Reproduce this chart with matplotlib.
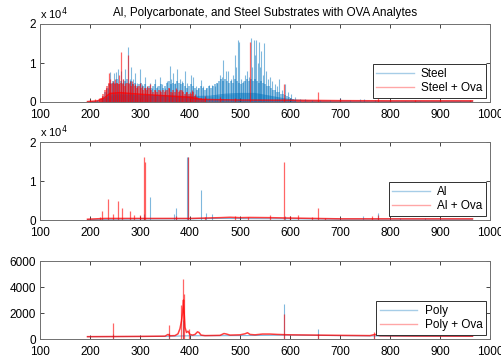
import matplotlib
matplotlib.use("Agg")
import matplotlib.pyplot as plt
from matplotlib.lines import Line2D

plt.rcParams['font.family'] = ['Liberation Sans', 'DejaVu Sans']
plt.rcParams['font.size'] = 8

TITLE = "Al, Polycarbonate, and Steel Substrates with OVA Analytes"
x_ticks = [100, 200, 300, 400, 500, 600, 700, 800, 900, 1000]

# ---------------- Steel panel ----------------
steel_cont_wl = [195, 215, 228, 240, 260, 300, 350, 400, 440, 470, 500, 530, 560, 590, 610, 650, 700, 800, 965]
steel_cont = [0, 200, 800, 1500, 1800, 1600, 1600, 1400, 1500, 2000, 2200, 2200, 1500, 800, 500, 300, 250, 200, 200]
steel_pk_wl = [205, 215, 225, 232, 236, 240, 244, 248, 252, 257, 262, 266, 270, 276, 280, 283, 287, 290,
               295, 300, 305, 310, 315, 320, 325, 330, 335, 340, 345, 350, 355, 360, 363, 367, 371, 375,
               380, 385, 390, 395, 403, 407, 412, 417, 422, 427, 432, 438, 444, 450, 455, 460, 464, 467,
               472, 477, 482, 486, 490, 493, 496, 499, 503, 507, 511, 515, 519, 522, 525, 528, 531, 533,
               536, 538, 541, 543, 546, 548, 552, 556, 560, 565, 570, 575, 579, 584, 590, 596, 602, 610,
               620, 630, 645, 660, 680, 700, 720, 740, 748, 770, 800, 830, 860, 900, 940]
steel_pk = [300, 500, 900, 2500, 3500, 7700, 5000, 7500, 7700, 8500, 8000, 6000, 8500, 14100, 6000, 9000,
            6000, 7500, 5000, 8500, 4500, 6500, 4000, 5000, 3500, 6000, 4000, 6500, 4500, 3500, 5500, 9300,
            6000, 7500, 5000, 8500, 6000, 5500, 8000, 5000, 7000, 6400, 4000, 3500, 5600, 4000, 3500, 4400,
            4400, 4000, 5000, 7000, 6500, 10800, 8000, 8000, 6000, 7000, 12000, 9000, 15900, 15500, 6000,
            5500, 7000, 8000, 6500, 16400, 9000, 16000, 12000, 16000, 10000, 15500, 9000, 13000, 7000, 15000,
            8000, 6000, 6500, 5500, 4500, 4000, 6000, 3000, 4500, 2500, 2000, 1200, 800, 700, 500, 600, 500,
            900, 500, 800, 700, 500, 400, 300, 300, 250, 200]
steel_minor_wl = [226, 230, 234, 238, 242, 246, 250, 254, 258, 262, 266, 270, 274, 278, 282, 286, 290, 294,
                  298, 302, 306, 310, 314, 318, 322, 326, 330, 334, 338, 342, 346, 350, 354, 358, 362, 366,
                  370, 374, 378, 382, 386, 390, 394, 398, 402, 406, 410, 414, 418, 422, 426, 430, 434, 438,
                  442, 446, 450, 454, 458, 462, 466, 470, 474, 478, 482, 486, 490, 494, 498, 502, 506, 510,
                  514, 518, 522, 526, 530, 534, 538, 542, 546, 550, 554, 558, 562, 566, 570, 574, 578, 582,
                  586, 590, 594, 598, 602, 606, 610]
steel_minor = [1500, 2500, 3500, 4500, 5000, 5500, 5000, 6000, 4500, 5500, 5000, 5500, 6000, 5000, 5500,
               4500, 5000, 4000, 4500, 5000, 4000, 4500, 3500, 4000, 3500, 4000, 4500, 3500, 4000, 4500,
               3500, 4000, 5000, 5500, 4500, 5000, 4500, 5500, 5000, 4500, 5000, 4000, 3500, 4000, 4500,
               4000, 3500, 3000, 3500, 4000, 3500, 3000, 3500, 4000, 3500, 4000, 4500, 5000, 5500, 6000,
               5500, 6000, 5500, 5000, 5500, 5000, 6000, 5500, 5000, 4500, 5000, 5500, 6000, 5500, 6000,
               5500, 6000, 5500, 5000, 5500, 5000, 4500, 4000, 4000, 3500, 3000, 3000, 2500, 2500, 2000,
               2000, 1800, 1500, 1200, 1000, 800, 600]

steel_ova_cont_wl = [195, 215, 228, 240, 260, 300, 350, 400, 420, 450, 500, 600, 700, 800, 965]
steel_ova_cont = [100, 300, 1000, 2200, 2400, 2000, 1600, 1200, 700, 600, 500, 450, 350, 300, 300]
steel_ova_pk_wl = [200, 210, 218, 225, 232, 238, 241, 246, 250, 255, 259, 262, 266, 271, 276, 280, 285, 290,
                   295, 300, 305, 310, 315, 320, 330, 340, 350, 358, 365, 372, 378, 385, 392, 400, 405,
                   410, 430, 460, 490, 520, 588, 656, 700, 777, 800, 850, 900, 960]
steel_ova_pk = [500, 700, 900, 1500, 3500, 7500, 6000, 5500, 6000, 5000, 7000, 12800, 6000, 5000, 12000,
                5500, 5500, 4500, 4000, 5000, 4000, 3500, 4000, 4500, 3000, 3000, 3000, 3500, 2500, 3500,
                3000, 3000, 2500, 2500, 3000, 2000, 1500, 1200, 1000, 15500, 4500, 2500, 700, 1000, 600, 500,
                500, 400]
steel_ova_minor_wl = [222, 226, 230, 234, 238, 242, 246, 250, 254, 258, 262, 266, 270, 274, 278, 282, 286,
                      290, 294, 298, 302, 306, 310, 314, 318, 322, 326, 330, 334, 338, 342, 346, 350, 354,
                      358, 362, 366, 370, 374, 378, 382, 386, 390, 394, 398, 402, 406, 410, 414, 418, 422,
                      426, 430]
steel_ova_minor = [1000, 2000, 3000, 4000, 5000, 4500, 5000, 4500, 5000, 4500, 5000, 4500, 4000, 5000, 4500,
                   4000, 4500, 4000, 3500, 4000, 3500, 3000, 3500, 3000, 3500, 3000, 2500, 3000, 2500, 3000,
                   2500, 3000, 2500, 3000, 3500, 2500, 3000, 2500, 3000, 2500, 3000, 2500, 2000, 2500, 2000,
                   2000, 2500, 1500, 1200, 1000, 1000, 800, 800]

# ---------------- Al panel ----------------
al_cont_wl = [195, 300, 400, 460, 520, 600, 700, 800, 965]
al_cont = [100, 250, 300, 400, 350, 300, 200, 200, 150]
al_pk_wl = [309, 320, 368, 373, 394, 396, 423, 432, 445, 590, 747, 777, 820, 870]
al_pk = [1500, 6000, 1500, 3000, 16200, 16200, 7700, 1800, 1500, 1000, 1000, 1900, 500, 400]

al_ova_cont_wl = [195, 230, 300, 400, 460, 480, 500, 520, 560, 600, 650, 700, 800, 965]
al_ova_cont = [200, 400, 400, 400, 600, 700, 600, 650, 600, 500, 400, 300, 300, 300]
al_ova_pk_wl = [220, 225, 237, 247, 256, 265, 280, 288, 300, 309, 310, 373, 396, 430, 490, 517, 560, 589,
                600, 617, 645, 656, 670, 765, 777]
al_ova_pk = [800, 2200, 5500, 1500, 5000, 3000, 2200, 1200, 1200, 16200, 15000, 1000, 16200, 800, 1000, 700,
             1200, 15000, 1000, 1400, 800, 3000, 500, 1000, 1200]

# ---------------- Poly panel ----------------
poly_cont_wl = [195, 350, 400, 500, 600, 700, 800, 965]
poly_cont = [180, 200, 250, 260, 300, 260, 220, 200]
poly_pk_wl = [247, 358, 386, 589, 656, 768]
poly_pk = [400, 500, 1500, 2700, 800, 300]

poly_ova_cont_wl = [195, 300, 350, 356, 360, 370, 376, 380, 383, 385, 387, 388, 390, 393, 396, 400, 405,
                    410, 415, 418, 422, 430, 460, 468, 473, 480, 500, 510, 515, 520, 530, 545, 560, 575,
                    600, 650, 700, 760, 770, 780, 850, 965]
poly_ova_cont = [180, 200, 220, 350, 250, 260, 400, 800, 1400, 2000, 3000, 2200, 900, 500, 600, 350, 300,
                 350, 550, 500, 300, 260, 280, 420, 380, 300, 320, 400, 480, 350, 320, 380, 380, 350, 320,
                 300, 280, 260, 350, 250, 230, 220]
poly_ova_pk_wl = [247, 358, 383, 386, 389, 398, 589, 656, 768]
poly_ova_pk = [1200, 1050, 2600, 4600, 3500, 750, 1900, 400, 550]

BLUE = '#0072BD'
RED = '#FF0000'

fig = plt.figure(figsize=(5.02, 3.6), dpi=100)
L, W, H = 40 / 502, 450 / 502, 78 / 360
bottoms = [1 - 102 / 360, 1 - 220 / 360, 1 - 339 / 360]

panels = [
    dict(cb=(steel_cont_wl, steel_cont), pb=(steel_pk_wl, steel_pk), mb=(steel_minor_wl, steel_minor),
         cr=(steel_ova_cont_wl, steel_ova_cont), pr=(steel_ova_pk_wl, steel_ova_pk),
         mr=(steel_ova_minor_wl, steel_ova_minor), fill=True,
         labels=['Steel', 'Steel + Ova'], ylim=20000, yt=[0, 10000, 20000], ytl=['0', '1', '2'], sci=True),
    dict(cb=(al_cont_wl, al_cont), pb=(al_pk_wl, al_pk), mb=None,
         cr=(al_ova_cont_wl, al_ova_cont), pr=(al_ova_pk_wl, al_ova_pk), mr=None, fill=False,
         labels=['Al', 'Al + Ova'], ylim=20000, yt=[0, 10000, 20000], ytl=['0', '1', '2'], sci=True),
    dict(cb=(poly_cont_wl, poly_cont), pb=(poly_pk_wl, poly_pk), mb=None,
         cr=(poly_ova_cont_wl, poly_ova_cont), pr=(poly_ova_pk_wl, poly_ova_pk), mr=None, fill=False,
         labels=['Poly', 'Poly + Ova'], ylim=6000, yt=[0, 2000, 4000, 6000],
         ytl=['0', '2000', '4000', '6000'], sci=False),
]

for i, p in enumerate(panels):
    ax = fig.add_axes([L, bottoms[i], W, H])
    # blue series
    if p['fill']:
        ax.fill_between(p['cb'][0], 0, p['cb'][1], color=BLUE, alpha=0.5, lw=0)
    ax.plot(p['cb'][0], p['cb'][1], color=BLUE, lw=0.8, alpha=0.5)
    if p['mb'] is not None:
        ax.vlines(p['mb'][0], 0, p['mb'][1], color=BLUE, lw=1.2, alpha=0.5)
    ax.vlines(p['pb'][0], 0, p['pb'][1], color=BLUE, lw=0.8, alpha=0.5)
    # red series
    if p['fill']:
        ax.fill_between(p['cr'][0], 0, p['cr'][1], color=RED, alpha=0.6, lw=0)
    ax.plot(p['cr'][0], p['cr'][1], color=RED, lw=1.1, alpha=0.75)
    if p['mr'] is not None:
        ax.vlines(p['mr'][0], 0, p['mr'][1], color=RED, lw=1.2, alpha=0.55)
    ax.vlines(p['pr'][0], 0, p['pr'][1], color=RED, lw=0.9, alpha=0.6)

    ax.set_xlim(100, 1000)
    ax.set_ylim(0, p['ylim'])
    ax.set_xticks(x_ticks)
    ax.set_yticks(p['yt'])
    ax.set_yticklabels(p['ytl'])
    ax.tick_params(direction='in', length=3, width=0.6, top=True, right=True,
                   labelsize=8.5, colors='#262626', labelcolor='black')
    ax.tick_params(axis='x', pad=5)
    ax.tick_params(axis='y', pad=3)
    for s in ax.spines.values():
        s.set_color('#707070')
        s.set_linewidth(0.7)
    if p['sci']:
        ax.text(0.0, 1.03, r'x 10$^{4}$', transform=ax.transAxes, fontsize=8, ha='left', va='bottom')
    handles = [Line2D([], [], color=BLUE, lw=1.0, alpha=0.35),
               Line2D([], [], color=RED, lw=1.0, alpha=0.35)]
    leg = ax.legend(handles, p['labels'], loc='lower right', fontsize=8.5, frameon=True, fancybox=False,
                    framealpha=1, edgecolor='#303030', handlelength=3.2, handletextpad=0.6,
                    borderpad=0.3, labelspacing=0.2, borderaxespad=0.35)
    leg.get_frame().set_linewidth(0.7)
    if i == 0:
        ax.set_title(TITLE, fontsize=8.4, pad=6)

fig.savefig('out.png', dpi=100)
